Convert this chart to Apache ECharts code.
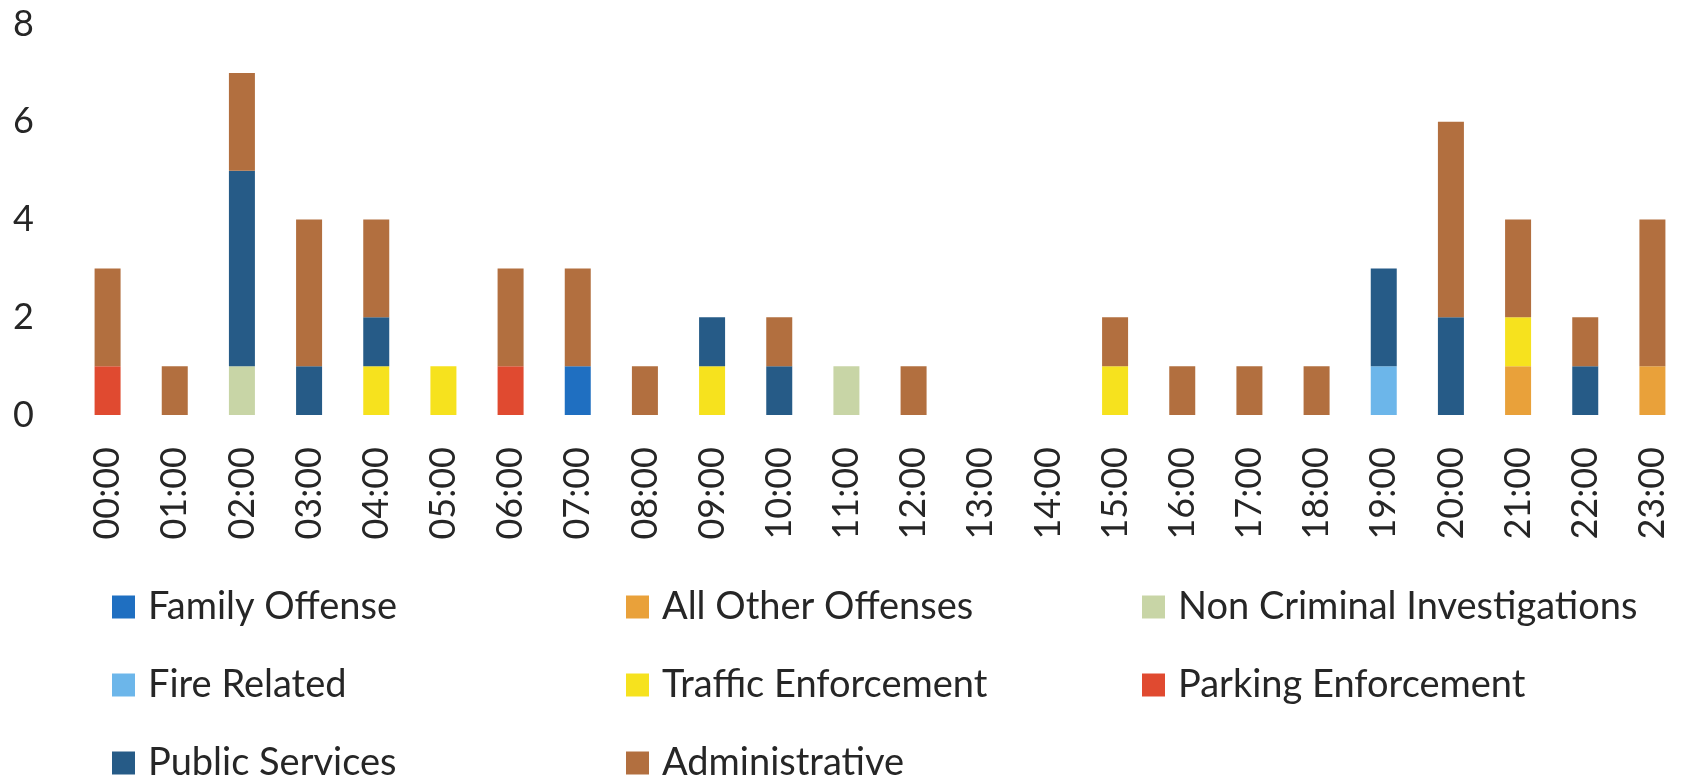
<!DOCTYPE html>
<html>
<head>
<meta charset="utf-8">
<script src="https://cdn.jsdelivr.net/npm/echarts@6/dist/echarts.min.js"></script>
<style>
  html, body { margin: 0; padding: 0; background: #ffffff; }
  #chart { width: 1686px; height: 783px; }
</style>
</head>
<body>
<div id="chart"></div>
<script>
// Incident counts by hour of day, stacked by incident type
const hours = ['00:00','01:00','02:00','03:00','04:00','05:00','06:00','07:00','08:00','09:00','10:00','11:00',
               '12:00','13:00','14:00','15:00','16:00','17:00','18:00','19:00','20:00','21:00','22:00','23:00'];

const familyOffense      = [0,0,0,0,0,0,0,1,0,0,0,0, 0,0,0,0,0,0,0,0,0,0,0,0];
const allOtherOffenses   = [0,0,0,0,0,0,0,0,0,0,0,0, 0,0,0,0,0,0,0,0,0,1,0,1];
const nonCriminal        = [0,0,1,0,0,0,0,0,0,0,0,1, 0,0,0,0,0,0,0,0,0,0,0,0];
const fireRelated        = [0,0,0,0,0,0,0,0,0,0,0,0, 0,0,0,0,0,0,0,1,0,0,0,0];
const trafficEnforcement = [0,0,0,0,1,1,0,0,0,1,0,0, 0,0,0,1,0,0,0,0,0,1,0,0];
const parkingEnforcement = [1,0,0,0,0,0,1,0,0,0,0,0, 0,0,0,0,0,0,0,0,0,0,0,0];
const publicServices     = [0,0,4,1,1,0,0,0,0,1,1,0, 0,0,0,0,0,0,0,2,2,0,1,0];
const administrative     = [2,1,2,3,2,0,2,2,1,0,1,0, 1,0,0,1,1,1,1,0,4,2,1,3];

const yTicks = [0, 2, 4, 6, 8];

const seriesDefs = [
  { name: 'Family Offense',              data: familyOffense,      color: '#1f6fc1' },
  { name: 'All Other Offenses',          data: allOtherOffenses,   color: '#e9a13a' },
  { name: 'Non Criminal Investigations', data: nonCriminal,        color: '#c8d5a6' },
  { name: 'Fire Related',                data: fireRelated,        color: '#6cb6ea' },
  { name: 'Traffic Enforcement',         data: trafficEnforcement, color: '#f6e21e' },
  { name: 'Parking Enforcement',         data: parkingEnforcement, color: '#e04a30' },
  { name: 'Public Services',             data: publicServices,     color: '#265b87' },
  { name: 'Administrative',              data: administrative,     color: '#b26f3f' }
];

const FONT = 'Lato, "Noto Sans", sans-serif';
const TEXT = '#262626';

// One vertical legend per column so the three columns line up
function legendColumn(left, names) {
  return {
    orient: 'vertical',
    left: left,
    top: 588,
    height: 300,
    padding: 0,
    data: names,
    icon: 'rect',
    itemWidth: 23,
    itemHeight: 23,
    itemGap: 40,
    selectedMode: false,
    textStyle: { fontFamily: FONT, fontSize: 38, color: TEXT, lineHeight: 38, padding: [0, 0, 0, 8] }
  };
}

const chart = echarts.init(document.getElementById('chart'), null, { renderer: 'canvas' });
chart.setOption({
  backgroundColor: '#ffffff',
  animation: false,
  textStyle: { fontFamily: FONT },
  grid: { left: 74, width: 1614, top: 24, bottom: 368, containLabel: false },
  legend: [
    legendColumn(112, ['Family Offense', 'Fire Related', 'Public Services']),
    legendColumn(626, ['All Other Offenses', 'Traffic Enforcement', 'Administrative']),
    legendColumn(1142, ['Non Criminal Investigations', 'Parking Enforcement'])
  ],
  xAxis: {
    type: 'category',
    data: hours,
    axisLine: { show: false },
    axisTick: { show: false },
    axisLabel: {
      rotate: 90,
      margin: 32,
      interval: 0,
      fontFamily: FONT,
      fontSize: 36,
      color: TEXT
    }
  },
  yAxis: {
    type: 'value',
    min: yTicks[0],
    max: yTicks[yTicks.length - 1],
    interval: yTicks[1] - yTicks[0],
    axisLine: { show: false },
    axisTick: { show: false },
    splitLine: { show: false },
    axisLabel: {
      margin: 40,
      fontFamily: FONT,
      fontSize: 36,
      color: TEXT
    }
  },
  series: seriesDefs.map(s => ({
    name: s.name,
    type: 'bar',
    stack: 'hour',
    barWidth: 26,
    data: s.data,
    itemStyle: { color: s.color },
    emphasis: { disabled: true }
  }))
});
</script>
</body>
</html>
